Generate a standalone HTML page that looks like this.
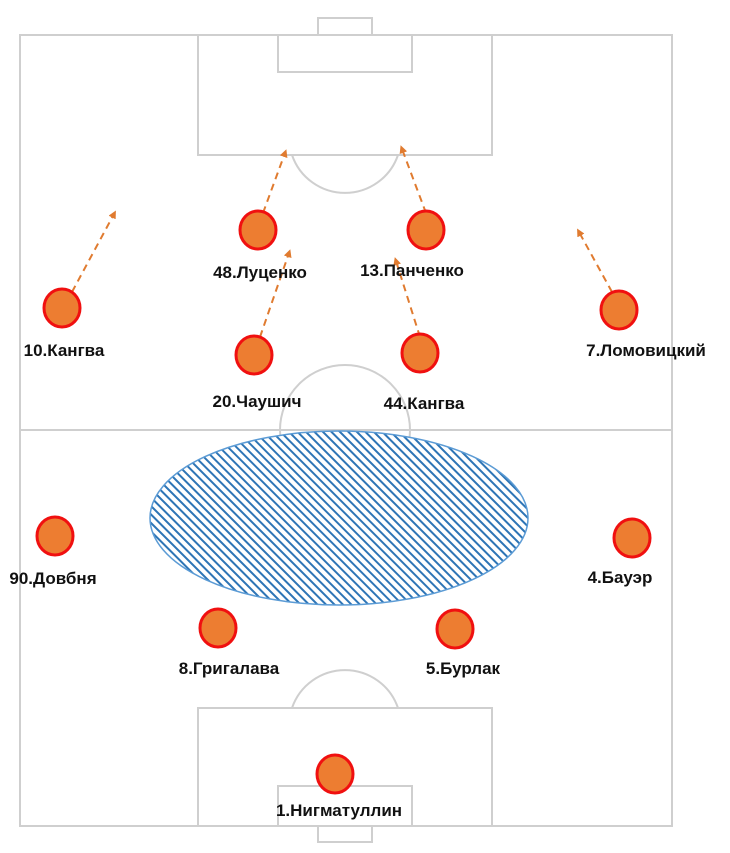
<!DOCTYPE html>
<html><head><meta charset="utf-8"><style>
html,body{margin:0;padding:0;background:#fff;}
svg{display:block;}
text{font-family:"Liberation Sans",sans-serif;font-weight:bold;font-size:17px;fill:#111;text-anchor:middle;}
</style></head><body>
<svg width="730" height="853" viewBox="0 0 730 853">
<defs>
<pattern id="h" patternUnits="userSpaceOnUse" width="6" height="6" patternTransform="rotate(-45)">
<rect width="6" height="6" fill="#fff"/>
<rect x="0" y="0" width="2" height="6" fill="#2e75b6"/>
</pattern>
<marker id="a" markerWidth="8" markerHeight="8" refX="4" refY="4" orient="auto" markerUnits="userSpaceOnUse">
<path d="M0,0 L8,4 L0,8 z" fill="#e07b30"/>
</marker>
</defs>
<g fill="none" stroke="#cfcfcf" stroke-width="2">
<rect x="20" y="35" width="652" height="791"/>
<line x1="20" y1="430" x2="672" y2="430"/>
<rect x="198" y="35" width="294" height="120"/>
<rect x="278" y="35" width="134" height="37"/>
<rect x="318" y="18" width="54" height="17"/>
<path d="M292,155 A56,56 0 0 0 398,155"/>
<circle cx="345" cy="430" r="65"/>
<rect x="198" y="708" width="294" height="118"/>
<rect x="278" y="786" width="134" height="40"/>
<rect x="318" y="826" width="54" height="16"/>
<path d="M292,708 A56,56 0 0 1 398,708"/>
</g>
<ellipse cx="339" cy="518" rx="189" ry="87" fill="url(#h)" stroke="#5b9bd5" stroke-width="1.5"/>
<g stroke="#e07b30" stroke-width="2" stroke-dasharray="7,5" fill="none" marker-end="url(#a)">
<line x1="72" y1="292" x2="114" y2="214"/>
<line x1="263" y1="213" x2="285" y2="153"/>
<line x1="426" y1="213" x2="402" y2="149"/>
<line x1="612" y1="292" x2="579" y2="232"/>
<line x1="260" y1="337" x2="289" y2="253"/>
<line x1="420" y1="337" x2="396" y2="261"/>
</g>
<g fill="#ed7d31" stroke="#f01010" stroke-width="3">
<ellipse cx="258" cy="230" rx="18" ry="19"/>
<ellipse cx="426" cy="230" rx="18" ry="19"/>
<ellipse cx="62" cy="308" rx="18" ry="19"/>
<ellipse cx="619" cy="310" rx="18" ry="19"/>
<ellipse cx="254" cy="355" rx="18" ry="19"/>
<ellipse cx="420" cy="353" rx="18" ry="19"/>
<ellipse cx="55" cy="536" rx="18" ry="19"/>
<ellipse cx="632" cy="538" rx="18" ry="19"/>
<ellipse cx="218" cy="628" rx="18" ry="19"/>
<ellipse cx="455" cy="629" rx="18" ry="19"/>
<ellipse cx="335" cy="774" rx="18" ry="19"/>
</g>
<text x="260" y="278">48.Луценко</text>
<text x="412" y="276">13.Панченко</text>
<text x="64" y="356">10.Кангва</text>
<text x="646" y="356">7.Ломовицкий</text>
<text x="257" y="407">20.Чаушич</text>
<text x="424" y="409">44.Кангва</text>
<text x="53" y="584">90.Довбня</text>
<text x="620" y="583">4.Бауэр</text>
<text x="229" y="674">8.Григалава</text>
<text x="463" y="674">5.Бурлак</text>
<text x="339" y="816">1.Нигматуллин</text>
</svg>
</body></html>
